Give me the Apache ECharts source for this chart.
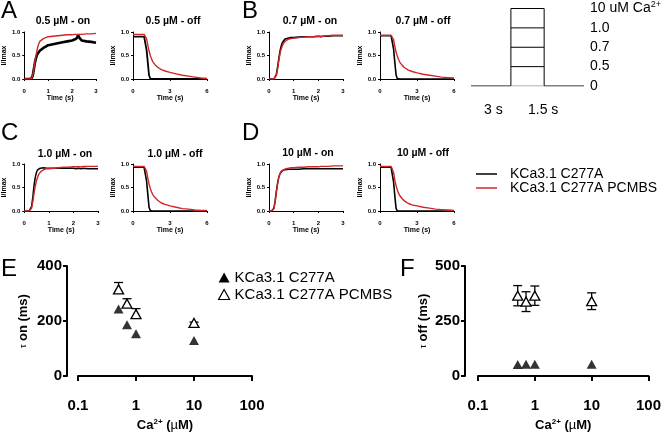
<!DOCTYPE html>
<html><head><meta charset="utf-8">
<script src="https://cdn.jsdelivr.net/npm/echarts/dist/echarts.min.js"></script>
<style>html,body{margin:0;padding:0;background:#fff}#c{width:664px;height:433px}</style>
</head><body><div id="c"></div><script>
// ---------- DATA ----------
const seriesNames = ['KCa3.1 C277A', 'KCa3.1 C277A PCMBS'];
const traceTitles = ['0.5 \u00b5M - on','0.5 \u00b5M - off','0.7 \u00b5M - on','0.7 \u00b5M - off','1.0 \u00b5M - on','1.0 \u00b5M - off','10 \u00b5M - on','10 \u00b5M - off'];
// activation (on) traces, time in s
const tOn = [0,0.1,0.2,0.25,0.3,0.35,0.4,0.45,0.5,0.55,0.6,0.65,0.7,0.8,0.9,1.0,1.2,1.4,1.6,1.8,2.0,2.1,2.2,2.25,2.3,2.4,2.6,2.8,3.0];
const aOnRed   = [0,0,0,0,0.01,0.06,0.2,0.38,0.52,0.65,0.74,0.8,0.83,0.86,0.88,0.9,0.91,0.92,0.93,0.94,0.94,0.95,0.95,0.96,0.95,0.95,0.96,0.96,0.97];
const aOnBlack = [0,0,0,0,0.01,0.06,0.2,0.36,0.46,0.53,0.57,0.6,0.62,0.66,0.69,0.72,0.74,0.76,0.78,0.8,0.82,0.84,0.87,0.94,0.88,0.82,0.8,0.79,0.77];
const bOnRed   = [0,0,0,0.01,0.08,0.22,0.4,0.55,0.65,0.72,0.77,0.8,0.82,0.85,0.86,0.87,0.88,0.89,0.9,0.9,0.91,0.91,0.91,0.92,0.92,0.92,0.93,0.93,0.93];
const bOnBlack = [0,0,0,0.01,0.1,0.26,0.44,0.6,0.71,0.78,0.82,0.85,0.86,0.87,0.88,0.88,0.89,0.9,0.9,0.9,0.91,0.9,0.91,0.91,0.91,0.91,0.92,0.92,0.92];
const cOnRed   = [0,0,0,0.01,0.06,0.2,0.38,0.53,0.65,0.73,0.79,0.82,0.85,0.88,0.9,0.9,0.91,0.92,0.93,0.93,0.94,0.94,0.94,0.94,0.94,0.95,0.95,0.95,0.95];
const cOnBlack = [0,0,0,0.01,0.1,0.3,0.55,0.72,0.83,0.88,0.9,0.91,0.92,0.92,0.91,0.91,0.91,0.91,0.91,0.91,0.91,0.9,0.91,0.91,0.9,0.91,0.9,0.9,0.9];
const dOnRed   = [0,0,0.05,0.2,0.4,0.58,0.72,0.8,0.85,0.87,0.88,0.89,0.9,0.91,0.92,0.92,0.93,0.93,0.94,0.94,0.94,0.95,0.95,0.95,0.95,0.95,0.96,0.96,0.96];
const dOnBlack = [0,0,0.06,0.22,0.43,0.6,0.73,0.8,0.84,0.86,0.87,0.88,0.88,0.89,0.89,0.89,0.89,0.9,0.9,0.9,0.9,0.9,0.9,0.9,0.9,0.9,0.9,0.9,0.9];
// deactivation (off) traces
const tOff = [0,0.5,0.9,1.0,1.1,1.2,1.3,1.4,1.5,1.6,1.8,2.0,2.3,2.6,3.0,3.5,4.0,4.5,5.0,5.5,6.0];
const aOffRed   = [0.95,0.95,0.95,0.94,0.86,0.72,0.6,0.5,0.43,0.37,0.3,0.25,0.2,0.17,0.14,0.11,0.08,0.06,0.04,0.02,0.01];
const aOffBlack = [0.9,0.9,0.9,0.88,0.62,0.35,0.08,0.01,0,0,0,0,0,0,0,0,0,0,0,0,0];
const bOffRed   = [0.93,0.93,0.93,0.92,0.84,0.7,0.58,0.49,0.42,0.36,0.29,0.24,0.19,0.16,0.13,0.1,0.08,0.06,0.04,0.03,0.02];
const bOffBlack = [0.92,0.92,0.92,0.9,0.64,0.36,0.09,0.01,0,0,0,0,0,0,0,0,0,0,0,0,0];
const cOffRed   = [0.95,0.95,0.95,0.94,0.85,0.7,0.58,0.48,0.41,0.35,0.28,0.23,0.17,0.14,0.11,0.08,0.05,0.04,0.02,0.01,0.01];
const cOffBlack = [0.93,0.93,0.93,0.91,0.64,0.36,0.08,0.01,0,0,0,0,0,0,0,0,0,0,0,0,0];
const dOffRed   = [0.95,0.95,0.95,0.94,0.82,0.66,0.54,0.45,0.38,0.33,0.26,0.21,0.16,0.13,0.11,0.08,0.06,0.04,0.03,0.02,0.01];
const dOffBlack = [0.93,0.93,0.93,0.91,0.62,0.33,0.06,0,0,0,0,0,0,0,0,0,0,0,0,0,0];
// protocol schematic (not to scale)
const stepLabels = ['0','0.5','0.7','1.0','10 uM Ca2+'];
const protocolEdges = [0, 3, 5.5, 8.5];
const protocolDurations = ['3 s','1.5 s'];
// time constants (ms) vs Ca2+ (uM)
const caConc = [0.5, 0.7, 1.0, 10];
const tauOnWT = [244, 186, 154, 129];
const tauOnPCMBS = [315, 263, 225, 193];
const tauOnPCMBSErr = [25, 18, 20, 3];
const tauOffWT = [52, 53, 53, 53];
const tauOffPCMBS = [365, 338, 365, 340];
const tauOffPCMBSErr = [46, 45, 44, 38];

// ---------- BUILD ----------
const FONT = 'Liberation Sans, Arial, sans-serif';
const RED = '#d0262a';
const grids = [], xAxes = [], yAxes = [], series = [], titles = [];
const traceLayout = [
  {left:22, top:32, off:false, tc:58, tt:11}, {left:133, top:32, off:true, tc:168, tt:11},
  {left:269, top:32, off:false, tc:305, tt:11}, {left:380, top:32, off:true, tc:418, tt:11},
  {left:24, top:164, off:false, tc:60, tt:144}, {left:133, top:164, off:true, tc:170, tt:144},
  {left:269, top:164, off:false, tc:303, tt:143}, {left:380, top:164, off:true, tc:418, tt:143}
];
const traceData = [
  [aOnBlack, aOnRed], [aOffBlack, aOffRed], [bOnBlack, bOnRed], [bOffBlack, bOffRed],
  [cOnBlack, cOnRed], [cOffBlack, cOffRed], [dOnBlack, dOnRed], [dOffBlack, dOffRed]
];
const blackWidths = [2.6, 1.8, 1.6, 1.6, 1.5, 1.6, 1.5, 1.6];
traceLayout.forEach((L, i) => {
  grids.push({left:L.left, top:L.top, width:74, height:47});
  xAxes.push({gridIndex:i, type:'value', min:0, max:L.off?6:3, interval:L.off?3:1, offset:7,
    axisLine:{lineStyle:{color:'#000', width:1}}, axisTick:{length:2, lineStyle:{color:'#000'}},
    axisLabel:{fontSize:6, fontWeight:'bold', color:'#000', margin:2, fontFamily:FONT},
    splitLine:{show:false}, name:'Time (s)', nameLocation:'middle', nameGap:9,
    nameTextStyle:{fontSize:7, fontWeight:'bold', color:'#000', fontFamily:FONT}});
  yAxes.push({gridIndex:i, type:'value', min:0, max:1, interval:0.5,
    axisLine:{show:true, lineStyle:{color:'#000', width:1}}, axisTick:{show:true, length:2, lineStyle:{color:'#000'}},
    axisLabel:{fontSize:6, fontWeight:'bold', color:'#000', margin:4, fontFamily:FONT, formatter:v=>v.toFixed(1)},
    splitLine:{show:false}, name:'I/Imax', nameLocation:'middle', nameGap:12,
    nameTextStyle:{fontSize:7, fontWeight:'bold', color:'#000', fontFamily:FONT}});
  const t = L.off ? tOff : tOn;
  const [blk, red] = traceData[i];
  series.push({type:'line', name:seriesNames[0], xAxisIndex:i, yAxisIndex:i, showSymbol:false, silent:true,
    data:t.map((x,k)=>[x, blk[k]]), lineStyle:{color:'#000', width:blackWidths[i]}, itemStyle:{color:'#000'}, z:2});
  series.push({type:'line', name:seriesNames[1], xAxisIndex:i, yAxisIndex:i, showSymbol:false, silent:true,
    data:t.map((x,k)=>[x, red[k]]), lineStyle:{color:RED, width:1.4}, itemStyle:{color:RED}, z:3});
  titles.push({text:traceTitles[i], left:L.tc, top:L.tt, textAlign:'center',
    textStyle:{fontSize:10.5, fontWeight:'bold', color:'#000', fontFamily:FONT}});
});

// schematic grid
const gS = grids.length;
grids.push({left:471, top:8, width:127, height:78});
xAxes.push({gridIndex:gS, type:'value', min:protocolEdges[0], max:protocolEdges[3], show:false});
yAxes.push({gridIndex:gS, type:'category', data:stepLabels, boundaryGap:false, position:'right',
  axisLine:{show:false}, axisTick:{show:false}, splitLine:{show:false},
  axisLabel:{margin:6, fontSize:14, color:'#000', fontFamily:FONT, align:'left',
    formatter:v => v === '10 uM Ca2+' ? '{n|10 uM Ca}{s|2+}' : '{n|' + v + '}',
    rich:{n:{fontSize:14, fontFamily:FONT, color:'#000'}, s:{fontSize:9, fontFamily:FONT, color:'#000', padding:[0,0,8,0]}}}});
const topLvl = stepLabels.length - 1;
series.push({type:'line', xAxisIndex:gS, yAxisIndex:gS, showSymbol:false, silent:true,
  data:[[protocolEdges[0],0],[protocolEdges[1],0],[protocolEdges[1],topLvl],[protocolEdges[2],topLvl],[protocolEdges[2],0],[protocolEdges[3],0]],
  lineStyle:{color:'#000', width:1}});
series.push({type:'line', xAxisIndex:gS, yAxisIndex:gS, showSymbol:false, silent:true,
  data:[[protocolEdges[1],0],[protocolEdges[2],0]], lineStyle:{color:'#999', width:1}});
for (let lv = 1; lv < topLvl; lv++) {
  series.push({type:'line', xAxisIndex:gS, yAxisIndex:gS, showSymbol:false, silent:true,
    data:[[protocolEdges[1],lv],[protocolEdges[2],lv]], lineStyle:{color:'#000', width:1}});
}

// tau panels
function errRender(upOnly){
  return function(params, api){
    const x = api.value(0), y = api.value(1), e = api.value(2);
    const top = api.coord([x, y + e]);
    const bot = upOnly ? api.coord([x, y]) : api.coord([x, y - e]);
    const cw = 4.5, st = {stroke:'#000', lineWidth:1.3};
    const ch = [{type:'line', shape:{x1:top[0], y1:top[1], x2:bot[0], y2:bot[1]}, style:st},
      {type:'line', shape:{x1:top[0]-cw, y1:top[1], x2:top[0]+cw, y2:top[1]}, style:st}];
    if (!upOnly) ch.push({type:'line', shape:{x1:bot[0]-cw, y1:bot[1], x2:bot[0]+cw, y2:bot[1]}, style:st});
    return {type:'group', children:ch};
  };
}
function tauPanel(left, top, height, ymax, yint, yOffset, yName, yNameGap, wt, pc, pcErr, upOnly){
  const g = grids.length;
  grids.push({left:left, top:top, width:174, height:height});
  xAxes.push({gridIndex:g, type:'log', logBase:10, min:0.1, max:100, offset:11,
    axisLine:{lineStyle:{color:'#000', width:2}}, axisTick:{length:5, lineStyle:{color:'#000', width:2}},
    minorTick:{show:false}, splitLine:{show:false},
    axisLabel:{fontSize:15, fontWeight:'bold', color:'#000', margin:11, fontFamily:FONT},
    name:'{b|Ca}{s|2+}{b| (}{m|\u00b5}{b|M)}', nameLocation:'middle', nameGap:31,
    nameTextStyle:{rich:{b:{fontSize:13, fontWeight:'bold', color:'#000', fontFamily:FONT},
      s:{fontSize:8, fontWeight:'bold', color:'#000', fontFamily:FONT, padding:[0,0,7,0]},
      m:{fontSize:13, color:'#000', fontFamily:FONT}}}});
  yAxes.push({gridIndex:g, type:'value', min:0, max:ymax, interval:yint, offset:yOffset,
    axisLine:{show:true, lineStyle:{color:'#000', width:2}}, axisTick:{show:true, length:4, lineStyle:{color:'#000', width:2}},
    splitLine:{show:false},
    axisLabel:{fontSize:15, fontWeight:'bold', color:'#000', margin:5, fontFamily:FONT},
    name:'{t|\u03c4} {b|' + yName + '}', nameLocation:'middle', nameGap:yNameGap, nameRotate:90,
    nameTextStyle:{rich:{t:{fontSize:9, color:'#000', fontFamily:FONT}, b:{fontSize:13, fontWeight:'bold', color:'#000', fontFamily:FONT}}}});
  series.push({type:'custom', xAxisIndex:g, yAxisIndex:g, silent:true, z:3,
    renderItem:errRender(upOnly), data:caConc.map((c,k)=>[c, pc[k], pcErr[k]])});
  series.push({type:'scatter', name:seriesNames[0], xAxisIndex:g, yAxisIndex:g, symbol:'triangle', symbolSize:[10,9], silent:true, z:4,
    itemStyle:{color:'#000'}, data:caConc.map((c,k)=>[c, wt[k]])});
  series.push({type:'scatter', name:seriesNames[1], xAxisIndex:g, yAxisIndex:g, symbol:'triangle', symbolSize:[10,9], silent:true, z:5,
    itemStyle:{color:'#fff', borderColor:'#000', borderWidth:1.3, opacity:1}, data:caConc.map((c,k)=>[c, pc[k]])});
}
tauPanel(78, 266, 111, 400, 200, 11, 'on (ms)', 37, tauOnWT, tauOnPCMBS, tauOnPCMBSErr, true);
tauPanel(478, 266, 110, 500, 250, 13, 'off (ms)', 35, tauOffWT, tauOffPCMBS, tauOffPCMBSErr, false);

const letters = [['A',1,-1],['B',242,-1],['C',1,121],['D',242,121],['E',1,257],['F',400,257]];
const graphic = letters.map(([t,x,y]) => ({type:'text', left:x, top:y, silent:true,
  style:{text:t, fontSize:24, fontFamily:FONT, fill:'#000'}}));
graphic.push({type:'text', left:484, top:103, silent:true, style:{text:protocolDurations[0], fontSize:14, fontFamily:FONT, fill:'#000'}});
graphic.push({type:'text', left:528, top:103, silent:true, style:{text:protocolDurations[1], fontSize:14, fontFamily:FONT, fill:'#000'}});

const option = {
  animation:false, backgroundColor:'#fff',
  title:titles, grid:grids, xAxis:xAxes, yAxis:yAxes, series:series, graphic:graphic,
  legend:[
    {orient:'vertical', left:471, top:162, itemGap:0, itemWidth:21, itemHeight:1.5, selectedMode:false,
      textStyle:{fontSize:14, fontFamily:FONT, color:'#000', padding:[0,0,0,8], lineHeight:13},
      data:[{name:seriesNames[0], icon:'rect', itemStyle:{color:'#000', borderWidth:0}},
            {name:seriesNames[1], icon:'rect', itemStyle:{color:RED, borderWidth:0}}]},
    {orient:'vertical', left:213, top:265, itemGap:2, itemWidth:11, itemHeight:10, selectedMode:false,
      textStyle:{fontSize:15, fontFamily:FONT, color:'#000', padding:[0,0,0,0]},
      data:[{name:seriesNames[0], icon:'triangle', itemStyle:{color:'#000', borderWidth:0}},
            {name:seriesNames[1], icon:'triangle', itemStyle:{color:'#fff', borderColor:'#000', borderWidth:1.2}}]}
  ]
};
const chart = echarts.init(document.getElementById('c'), null, {renderer:'canvas'});
chart.setOption(option);
</script></body></html>
